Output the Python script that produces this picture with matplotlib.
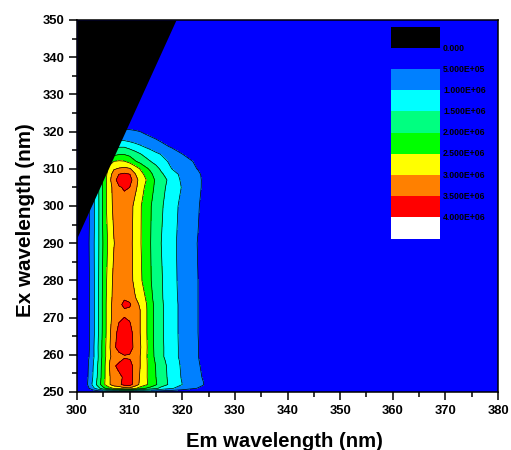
import numpy as np
import matplotlib
matplotlib.use("Agg")
import matplotlib.pyplot as plt
from matplotlib.patches import Rectangle
from matplotlib.ticker import MultipleLocator

plt.rcParams['font.family'] = ['Liberation Sans', 'DejaVu Sans']

em = [300, 302, 303, 304, 305, 306, 307, 308, 309, 310, 311, 312, 313, 314, 315, 316, 318, 320, 322, 323, 324, 326, 380]
ex = [250, 251, 252, 254, 257, 258.5, 259.5, 262, 266, 268.5, 270.5, 272, 273.5, 275.2, 280, 290, 300,
      305, 307, 308.5, 310, 312, 314, 316, 318, 320, 322, 350]

# intensity in units of 1E6, one row per ex value
intensity = [
    [.02, .03, .05, .10, .10, .12, .12, .15, .15, .15, .15, .12, .12, .10, .10, .10, .08, .06, .05, .05, .04, .02, 0],
    [.04, .35, .85, 1.3, 1.85, 2.25, 2.55, 2.65, 2.85, 2.9, 2.6, 2.25, 2.0, 1.8, 1.6, 1.35, 1.05, .78, .56, .48, .40, .08, 0],
    [.05, .50, 1.1, 1.7, 2.35, 2.9, 3.25, 3.4, 3.65, 3.7, 3.3, 2.9, 2.6, 2.35, 2.05, 1.75, 1.35, 1.0, .72, .62, .52, .10, 0],
    [.05, .45, 1.0, 1.6, 2.3, 2.9, 3.25, 3.38, 3.58, 3.7, 3.35, 2.95, 2.6, 2.3, 2.0, 1.72, 1.32, .95, .70, .58, .47, .06, 0],
    [.05, .42, .95, 1.55, 2.28, 2.92, 3.42, 3.65, 3.9, 3.75, 3.3, 3.0, 2.62, 2.27, 1.98, 1.7, 1.3, .92, .68, .55, .42, .05, 0],
    [.05, .40, .90, 1.5, 2.25, 2.9, 3.3, 3.4, 3.6, 3.55, 3.25, 3.0, 2.62, 2.25, 1.92, 1.65, 1.25, .90, .65, .53, .38, .04, 0],
    [.05, .35, .85, 1.48, 2.2, 2.85, 3.2, 3.32, 3.42, 3.38, 3.25, 3.0, 2.62, 2.2, 1.88, 1.6, 1.2, .88, .63, .52, .32, .03, 0],
    [.05, .30, .85, 1.5, 2.2, 2.85, 3.4, 3.7, 3.95, 3.85, 3.3, 3.05, 2.65, 2.2, 1.85, 1.6, 1.2, .88, .63, .52, .32, .03, 0],
    [.05, .30, .80, 1.45, 2.15, 2.8, 3.35, 3.62, 3.85, 3.7, 3.3, 3.0, 2.62, 2.18, 1.84, 1.58, 1.19, .87, .62, .50, .30, .03, 0],
    [.05, .30, .80, 1.43, 2.14, 2.8, 3.22, 3.52, 3.8, 3.55, 3.2, 3.0, 2.62, 2.18, 1.84, 1.58, 1.19, .87, .62, .50, .30, .03, 0],
    [.05, .30, .80, 1.43, 2.14, 2.8, 3.15, 3.3, 3.42, 3.35, 3.2, 3.0, 2.62, 2.18, 1.84, 1.58, 1.19, .87, .62, .50, .30, .03, 0],
    [.05, .30, .80, 1.43, 2.14, 2.8, 3.15, 3.3, 3.42, 3.38, 3.2, 3.0, 2.62, 2.18, 1.84, 1.58, 1.19, .87, .62, .50, .30, .03, 0],
    [.05, .30, .80, 1.43, 2.14, 2.8, 3.15, 3.3, 3.7, 3.6, 3.15, 2.95, 2.6, 2.18, 1.84, 1.58, 1.19, .87, .62, .50, .30, .03, 0],
    [.05, .30, .80, 1.43, 2.14, 2.78, 3.12, 3.28, 3.42, 3.32, 3.05, 2.8, 2.5, 2.12, 1.8, 1.56, 1.17, .86, .62, .50, .30, .03, 0],
    [.05, .32, .82, 1.42, 2.12, 2.72, 3.1, 3.25, 3.35, 3.22, 2.85, 2.6, 2.3, 2.03, 1.74, 1.55, 1.15, .85, .62, .50, .30, .03, 0],
    [.05, .35, .85, 1.4, 2.05, 2.6, 2.98, 3.2, 3.3, 3.15, 2.85, 2.55, 2.25, 2.0, 1.75, 1.5, 1.12, .85, .60, .48, .30, .03, 0],
    [.05, .30, .80, 1.38, 2.14, 2.75, 3.1, 3.25, 3.3, 3.2, 2.88, 2.56, 2.28, 2.03, 1.75, 1.57, 1.18, .88, .66, .55, .35, .05, 0],
    [.05, .30, .80, 1.4, 2.1, 2.75, 3.15, 3.45, 3.55, 3.5, 3.12, 2.8, 2.42, 2.17, 1.88, 1.65, 1.28, .97, .75, .62, .42, .05, 0],
    [.05, .30, .80, 1.4, 2.1, 2.8, 3.3, 3.75, 3.9, 3.75, 3.2, 2.85, 2.55, 2.22, 1.92, 1.68, 1.35, .90, .75, .63, .42, .05, 0],
    [.05, .30, .75, 1.3, 2.0, 2.75, 3.2, 3.52, 3.6, 3.52, 3.05, 2.7, 2.4, 2.1, 1.8, 1.58, 1.2, .88, .72, .60, .40, .05, 0],
    [.05, .25, .70, 1.2, 1.9, 2.6, 2.95, 3.05, 3.12, 3.05, 2.8, 2.47, 2.12, 1.9, 1.65, 1.42, 1.0, .83, .60, .47, .30, .03, 0],
    [.05, .20, .60, 1.1, 1.7, 2.3, 2.5, 2.55, 2.52, 2.35, 2.05, 1.85, 1.68, 1.5, 1.35, 1.18, .88, .68, .50, .35, .20, .02, 0],
    [.05, .15, .50, .90, 1.4, 1.7, 1.85, 1.95, 1.95, 1.85, 1.68, 1.52, 1.35, 1.2, 1.08, .97, .72, .50, .30, .20, .10, .01, 0],
    [.03, .10, .35, .65, 1.0, 1.2, 1.35, 1.45, 1.45, 1.32, 1.2, 1.07, .95, .85, .72, .62, .45, .30, .12, .08, .04, 0, 0],
    [.02, .08, .25, .45, .65, .80, .85, .88, .88, .82, .75, .70, .65, .57, .50, .42, .28, .15, .05, .03, .02, 0, 0],
    [.02, .05, .15, .30, .45, .60, .62, .62, .60, .58, .55, .50, .42, .35, .28, .22, .12, .05, .02, .01, .01, 0, 0],
    [.01, .02, .08, .15, .22, .30, .32, .32, .30, .28, .25, .22, .18, .15, .10, .08, .04, .02, .01, 0, 0, 0, 0],
    [0, 0, 0, 0, 0, 0, 0, 0, 0, 0, 0, 0, 0, 0, 0, 0, 0, 0, 0, 0, 0, 0, 0],
]

# rayleigh scatter cut, black above this line
scatter_em = [300, 318.8]
scatter_ex = [291.5, 350]

levels = [0.5, 1.0, 1.5, 2.0, 2.5, 3.0, 3.5, 4.0]
band_colors = ['#0000ff', '#0080ff', '#00ffff', '#00ff80', '#00ff00', '#ffff00', '#ff8000', '#ff0000', '#ffffff']
legend_labels = ['5.000E+05', '1.000E+06', '1.500E+06', '2.000E+06', '2.500E+06', '3.000E+06', '3.500E+06', '4.000E+06']

z = np.array(intensity) * 1e6
lv = np.array(levels) * 1e6

# axes box in pixels
left, right, top, bottom = 77, 498, 20, 392
w = right - left
h = bottom - top

fig = plt.figure(figsize=(5.11, 4.5), dpi=100)
ax = fig.add_axes([left / 511, 1 - bottom / 450, w / 511, h / 450])

ax.contourf(em, ex, z, levels=[-1] + list(lv) + [1e9], colors=band_colors)
ax.contour(em, ex, z, levels=lv, colors='k', linewidths=0.5)
ax.fill_between(scatter_em, scatter_ex, 350, color='k', lw=0, zorder=3)

ax.set_xlim(300, 380)
ax.set_ylim(250, 350)
ax.xaxis.set_major_locator(MultipleLocator(10))
ax.xaxis.set_minor_locator(MultipleLocator(5))
ax.yaxis.set_major_locator(MultipleLocator(10))
ax.yaxis.set_minor_locator(MultipleLocator(5))
ax.tick_params(which='major', length=5.8, width=1.1, labelsize=9.4, pad=3.5)
ax.tick_params(which='minor', length=3.6, width=1.1)
for lab in ax.get_xticklabels() + ax.get_yticklabels():
    lab.set_fontweight('bold')
for sp in ax.spines.values():
    sp.set_linewidth(1.1)
ax.set_xlabel('Em wavelength (nm)', fontsize=14.6, fontweight='bold')
ax.set_ylabel('Ex wavelength (nm)', fontsize=14.9, fontweight='bold')
ax.xaxis.set_label_coords((284.5 - left) / w, (bottom - 432) / h)
ax.yaxis.set_label_coords((35 - left) / w, (bottom - 220) / h)

# legend inside the axes, in axes fractions
x0 = (391 - left) / w
sw = 49 / w
sh = 21.2 / h
top0 = (bottom - 27) / h
ax.add_patch(Rectangle((x0, top0 - sh), sw, sh, transform=ax.transAxes, fc='k', ec='none', zorder=5))
ax.text(x0 + sw + 3 / w, top0 - sh, '0.000', transform=ax.transAxes, fontsize=6.2, fontweight='bold',
        va='center', zorder=6)
top1 = (bottom - 69) / h
for i in range(len(legend_labels)):
    ax.add_patch(Rectangle((x0, top1 - (i + 1) * sh), sw, sh, transform=ax.transAxes,
                           fc=band_colors[i + 1], ec='none', zorder=5))
    ax.text(x0 + sw + 3 / w, top1 - i * sh, legend_labels[i], transform=ax.transAxes, fontsize=6.2,
            fontweight='bold', va='center', zorder=6)

fig.savefig('out.png', dpi=100)
